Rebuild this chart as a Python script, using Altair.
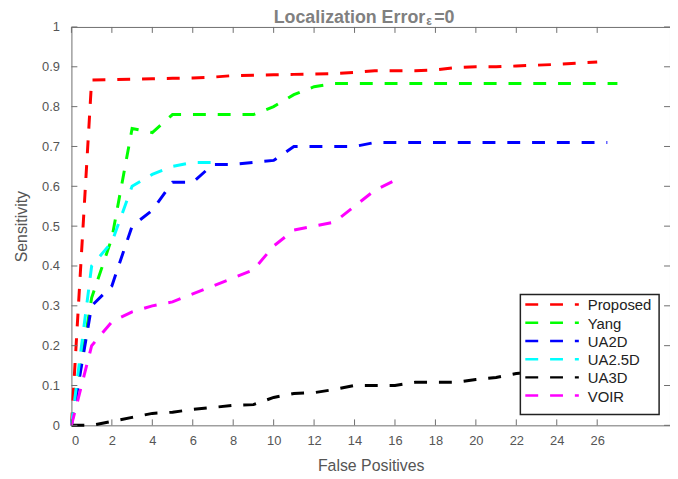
import altair as alt
import pandas as pd

# ---- data ----
methods = ["Proposed", "Yang", "UA2D", "UA2.5D", "UA3D", "VOIR"]
colors = ["#ff0000", "#00ff00", "#0000ff", "#00ffff", "#000000", "#ff00ff"]

proposed_x = [0, 1, 2, 3, 4, 5, 6, 7, 8, 9, 10, 11, 12, 13, 14, 15, 16, 17, 18, 19, 20, 21, 22, 23, 24, 25, 26]
proposed_y = [0, 0.867, 0.868, 0.869, 0.87, 0.871, 0.872, 0.874, 0.878, 0.879, 0.88, 0.881, 0.882, 0.883,
              0.886, 0.89, 0.89, 0.89, 0.892, 0.898, 0.9, 0.9, 0.902, 0.904, 0.906, 0.909, 0.912]

yang_x = [0, 1, 2, 3, 4, 5, 6, 7, 8, 9, 10, 11, 12, 13, 27]
yang_y = [0, 0.32, 0.47, 0.745, 0.735, 0.78, 0.78, 0.78, 0.78, 0.78, 0.8, 0.83, 0.85, 0.858, 0.858]

ua2d_x = [0, 1, 2, 3, 4, 5, 6, 7, 8, 9, 10, 11, 12, 13, 14, 15, 26.5]
ua2d_y = [0, 0.3, 0.35, 0.5, 0.54, 0.61, 0.61, 0.655, 0.655, 0.66, 0.665, 0.7, 0.7, 0.7, 0.7, 0.71, 0.71]

ua25d_x = [0, 1, 2, 3, 4, 5, 6, 7]
ua25d_y = [0, 0.4, 0.46, 0.6, 0.63, 0.65, 0.66, 0.66]

ua3d_x = [0, 1, 2, 3, 4, 5, 6, 7, 8, 9, 10, 11, 12, 13, 14, 15, 16, 17, 18, 19, 20, 21, 22, 23, 24, 25, 26]
ua3d_y = [0, 0, 0.01, 0.02, 0.03, 0.033, 0.04, 0.045, 0.05, 0.052, 0.07, 0.08, 0.082, 0.09, 0.1, 0.1, 0.1,
          0.108, 0.108, 0.108, 0.115, 0.12, 0.13, 0.135, 0.14, 0.14, 0.145]

voir_x = [0, 1, 2, 3, 4, 5, 6, 7, 8, 9, 10, 11, 12, 13, 14, 15, 16]
voir_y = [0, 0.2, 0.26, 0.285, 0.3, 0.31, 0.33, 0.35, 0.37, 0.39, 0.45, 0.49, 0.5, 0.51, 0.55, 0.59, 0.615]

x_ticks = [0, 2, 4, 6, 8, 10, 12, 14, 16, 18, 20, 22, 24, 26]
y_ticks = [0, 0.1, 0.2, 0.3, 0.4, 0.5, 0.6, 0.7, 0.8, 0.9, 1]

title_main = "Localization Error"
title_sub = "\u03b5"
title_tail = "=0"

# ---- build table ----
series = [
    ("Proposed", proposed_x, proposed_y),
    ("Yang", yang_x, yang_y),
    ("UA2D", ua2d_x, ua2d_y),
    ("UA2.5D", ua25d_x, ua25d_y),
    ("UA3D", ua3d_x, ua3d_y),
    ("VOIR", voir_x, voir_y),
]
rows = []
for i, (name, xs, ys) in enumerate(series):
    for j, (xv, yv) in enumerate(zip(xs, ys)):
        rows.append({"Method": name, "FP": xv, "Sens": yv, "order": i})
df = pd.DataFrame(rows)

W, H = 604, 402
FONT = "Liberation Sans"
GRAY = "#555555"
FRAME = "#6e6e6e"
DASH = [13, 12]

xscale = alt.Scale(domain=[0, 29.6], nice=False, zero=False)
yscale = alt.Scale(domain=[0, 1], nice=False)
cscale = alt.Scale(domain=methods, range=colors)

x_axis = alt.Axis(values=x_ticks, ticks=False, domain=False, grid=False,
                  labelPadding=9, labelFontSize=13, labelColor=GRAY, labelFont=FONT,
                  title="False Positives", titleFontSize=16, titleFontWeight="normal",
                  titleColor=GRAY, titleFont=FONT, titlePadding=11)
y_axis = alt.Axis(values=y_ticks, format=".1~f", ticks=False, domain=False, grid=False,
                  labelPadding=12, labelFontSize=13, labelColor=GRAY, labelFont=FONT,
                  title="Sensitivity", titleFontSize=16, titleFontWeight="normal",
                  titleColor=GRAY, titleFont=FONT, titlePadding=12)

lines = alt.Chart(df).mark_line(strokeWidth=3, strokeDash=DASH, strokeCap="butt").encode(
    x=alt.X("FP:Q", scale=xscale, axis=x_axis),
    y=alt.Y("Sens:Q", scale=yscale, axis=y_axis),
    color=alt.Color("Method:N", scale=cscale, legend=None),
    order=alt.Order("order:Q"),
    detail="Method:N",
)

xt = pd.DataFrame({"FP": x_ticks})
yt = pd.DataFrame({"Sens": y_ticks})
tick_style = dict(color=FRAME, strokeWidth=1)
bottom_ticks = alt.Chart(xt).mark_rule(**tick_style).encode(
    x=alt.X("FP:Q", scale=xscale, axis=x_axis), y=alt.value(H), y2=alt.value(H - 6))
top_ticks = alt.Chart(xt).mark_rule(**tick_style).encode(
    x=alt.X("FP:Q", scale=xscale, axis=x_axis), y=alt.value(0), y2=alt.value(6))
left_ticks = alt.Chart(yt).mark_rule(**tick_style).encode(
    y=alt.Y("Sens:Q", scale=yscale, axis=y_axis), x=alt.value(0), x2=alt.value(6))
right_ticks = alt.Chart(yt).mark_rule(**tick_style).encode(
    y=alt.Y("Sens:Q", scale=yscale, axis=y_axis), x=alt.value(W), x2=alt.value(W - 6))

# ---- title with subscript epsilon ----
tdf = pd.DataFrame({"a": [0]})
TCOL = "#808080"
t1 = alt.Chart(tdf).mark_text(align="right", baseline="alphabetic", fontSize=18, fontWeight="bold",
                              font=FONT, color=TCOL).encode(
    x=alt.value(357), y=alt.value(-4), text=alt.value(title_main))
t2 = alt.Chart(tdf).mark_text(align="left", baseline="alphabetic", fontSize=12, fontWeight="bold",
                              font=FONT, color=TCOL).encode(
    x=alt.value(358), y=alt.value(-2), text=alt.value(title_sub))
t3 = alt.Chart(tdf).mark_text(align="left", baseline="alphabetic", fontSize=18, fontWeight="bold",
                              font=FONT, color=TCOL).encode(
    x=alt.value(366), y=alt.value(-4), text=alt.value(title_tail))

# ---- legend box (MATLAB style) ----
LX0, LX1, LY0, LY1 = 453, 593, 270, 391
legend_box = alt.Chart(tdf).mark_rect(fill="white", stroke="#222222", strokeWidth=1.5).encode(
    x=alt.value(LX0), x2=alt.value(LX1), y=alt.value(LY0), y2=alt.value(LY1))
legend_layers = [legend_box]
for i, name in enumerate(methods):
    ld = pd.DataFrame({"Method": [name]})
    yy = 280 + i * 18.4
    legend_layers.append(
        alt.Chart(ld).mark_rule(strokeWidth=2.5, strokeDash=DASH, strokeCap="butt").encode(
            x=alt.value(458), x2=alt.value(512), y=alt.value(yy),
            color=alt.Color("Method:N", scale=cscale, legend=None)))
    legend_layers.append(
        alt.Chart(ld).mark_text(align="left", baseline="middle", fontSize=15, font=FONT,
                                color="#222222").encode(
            x=alt.value(521), y=alt.value(yy + 1), text="Method:N"))

chart = alt.layer(lines, bottom_ticks, top_ticks, left_ticks, right_ticks, t1, t2, t3,
                  *legend_layers).properties(
    width=W, height=H,
    autosize=alt.AutoSizeParams(type="none"),
    padding={"left": 64, "top": 17, "right": 0, "bottom": 50},
).configure_view(stroke=FRAME, strokeWidth=1)

chart.save("out.html", embed_options={"renderer": "svg", "actions": False})
